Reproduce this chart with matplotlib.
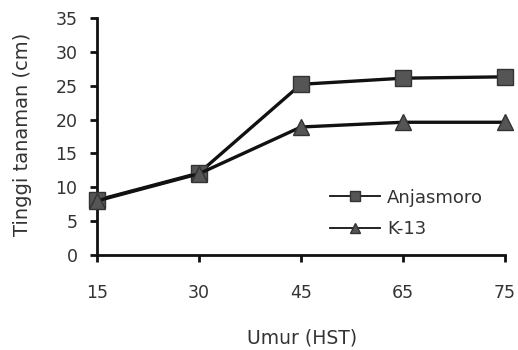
import matplotlib
matplotlib.use("Agg")
import matplotlib.pyplot as plt

categories = ["15", "30", "45", "65", "75"]
anjasmoro = [8.1, 12.1, 25.2, 26.1, 26.3]
k13 = [8.0, 12.0, 18.9, 19.6, 19.6]
yticks = [0, 5, 10, 15, 20, 25, 30, 35]

plt.rcParams['font.family'] = ['DejaVu Sans']
fig = plt.figure(figsize=(5.18, 3.5), dpi=100)
ax = fig.add_axes([0.187, 0.271, 0.788, 0.678])
x = list(range(len(categories)))
ax.plot(x, anjasmoro, color='#111111', lw=2.4, marker='s', markersize=11.5,
        markerfacecolor='#555555', markeredgecolor='#333333', markeredgewidth=1,
        label='Anjasmoro', clip_on=False, zorder=3)
ax.plot(x, k13, color='#111111', lw=2.4, marker='^', markersize=11.5,
        markerfacecolor='#555555', markeredgecolor='#333333', markeredgewidth=1,
        label='K-13', clip_on=False, zorder=3)
ax.set_xlim(0, len(categories) - 1)
ax.set_ylim(0, 35)
ax.set_xticks(x)
ax.set_xticklabels(categories)
ax.set_yticks(yticks)
for s in ['top', 'right']:
    ax.spines[s].set_visible(False)
for s in ['left', 'bottom']:
    ax.spines[s].set_linewidth(2)
    ax.spines[s].set_color('#111111')
ax.tick_params(axis='both', direction='out', width=2, length=5, labelsize=12.5,
               colors='#111111', labelcolor='#333333')
ax.tick_params(axis='x', pad=16)
ax.tick_params(axis='y', pad=9)
ax.set_xlabel('Umur (HST)', fontsize=13.5, color='#333333')
ax.set_ylabel('Tinggi tanaman (cm)', fontsize=14, color='#333333')
ax.xaxis.set_label_coords(0.502, -0.31)
ax.yaxis.set_label_coords(-0.16, 0.51)
leg = ax.legend(loc='upper left', bbox_to_anchor=(0.571, 0.28), frameon=False,
                fontsize=13, handlelength=2.8, markerscale=0.65,
                labelspacing=0.75, handletextpad=0.35, borderpad=0,
                borderaxespad=0)
for t in leg.get_texts():
    t.set_color('#333333')
for h in leg.get_lines():
    h.set_linewidth(1.3)
fig.savefig('out.png', dpi=100)
